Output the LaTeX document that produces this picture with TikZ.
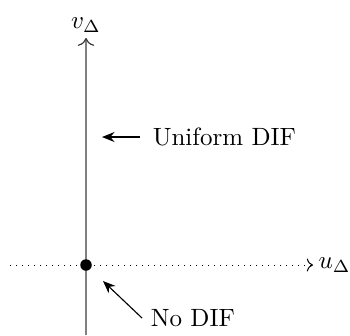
\documentclass[tikz,border=0pt]{standalone}
\usetikzlibrary{arrows.meta}
\tikzset{
  axisv/.style={draw=gray, line width=0.7pt, -{To[line width=0.45pt, color=black!80]}},
  axish/.style={draw=black, dotted, ->},
  note/.style={anchor=west, inner sep=3.33pt},
  pointer/.style={-{Stealth[length=5pt,width=4pt]}, line width=0.45pt}
}
\begin{document}
\begin{tikzpicture}[x=0.4pt, y=-0.4pt]
\useasboundingbox (0,0) rectangle (350,335);
\coordinate (vbot) at (86,335);
\coordinate (vtop) at (86,38);
\coordinate (hleft) at (10,265);
\coordinate (hright) at (313,265);
\draw[axisv] (vbot) -- (vtop);
\node[anchor=south, inner sep=2pt] (vlab) at (vtop) {$v_\Delta$};
\draw[axish] (hleft) -- (hright);
\node[anchor=west, inner sep=2pt] (ulab) at (hright) {$u_\Delta$};
\fill (86,265) circle (2.3pt) coordinate (origin);
\node[note] (uni) at (144,137) {Uniform DIF};
\coordinate (unitip) at (102,137);
\draw[pointer] (uni.west) ++(-4,0) -- (unitip);
\node[note] (nodif) at (142,318) {No DIF};
\coordinate (nodiftip) at (103,281);
\draw[pointer] (nodif.west) -- (nodiftip);
\end{tikzpicture}
\end{document}
